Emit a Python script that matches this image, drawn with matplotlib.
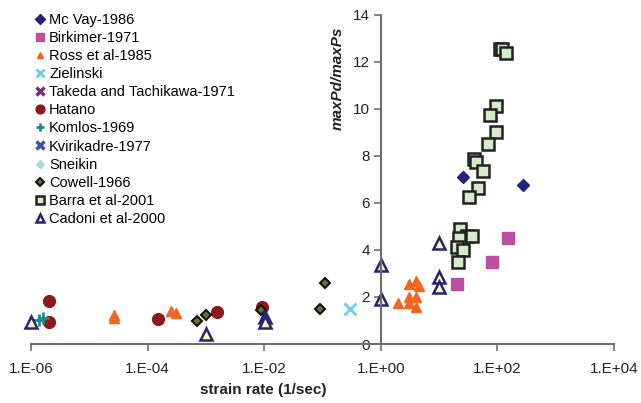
import numpy as np
import matplotlib.pyplot as plt
from matplotlib.ticker import FixedLocator, NullLocator

plt.rcParams['font.family'] = ['Liberation Sans', 'DejaVu Sans']

# strain rate (1/sec) and maxPd/maxPs per source
mcvay_x = [25.3, 275]
mcvay_y = [7.11, 6.77]

birk_x = [20.3, 79.5, 150]
birk_y = [2.57, 3.50, 4.50]

ross_x = [2.6e-5, 2.6e-5, 2.5e-4, 3.1e-4, 2.0, 3.0, 4.0, 4.6, 3.0, 4.0, 3.0, 4.0]
ross_y = [1.25, 1.10, 1.42, 1.30, 1.73, 2.54, 2.69, 2.47, 2.01, 2.01, 1.73, 1.56]

ziel_x = [0.30]
ziel_y = [1.48]

takeda_x, takeda_y = [], []

hatano_x = [2.06e-6, 2.06e-6, 1.52e-4, 1.53e-3, 9.06e-3]
hatano_y = [1.84, 0.95, 1.06, 1.37, 1.59]

komlos_x = [1.35e-6, 1.6e-6]
komlos_y = [1.02, 1.10]

kviri_x, kviri_y = [], []
sneikin_x, sneikin_y = [], []

cowell_x = [6.95e-4, 1.0e-3, 8.9e-3, 0.0906, 0.11]
cowell_y = [0.98, 1.23, 1.43, 1.48, 2.58]

barra_x = [109, 120, 140, 95.7, 75.5, 95.7, 69.8, 40.2, 43.5, 56.6, 45.7, 33.0,
           23.1, 30.1, 36.7, 22.2, 20.1, 25.3, 21.1]
barra_y = [12.57, 12.54, 12.40, 10.13, 9.74, 9.01, 8.50, 7.86, 7.74, 7.37, 6.63, 6.24,
           4.88, 4.60, 4.60, 4.50, 4.11, 3.98, 3.48]

cadoni_x = [1e-6, 1e-3, 0.0102, 0.0102, 1.0, 1.0, 10, 10, 10]
cadoni_y = [0.92, 0.43, 1.14, 0.95, 3.37, 1.92, 4.31, 2.84, 2.41]

xticks = [1e-6, 1e-4, 1e-2, 1e0, 1e2, 1e4]
xticklabels = ['1.E-06', '1.E-04', '1.E-02', '1.E+00', '1.E+02', '1.E+04']
yticks = [0, 2, 4, 6, 8, 10, 12, 14]

fig = plt.figure(figsize=(6.41, 4.03), dpi=100)
ax = fig.add_axes([0.0484, 0.1464, 0.9095, 0.8164])

def pts(x, y, lab, **kw):
	ax.plot(x, y, linestyle='none', label=lab, clip_on=False, **kw)

pts(mcvay_x, mcvay_y, 'Mc Vay-1986', marker='D', ms=6.5, color='#24237A', mec='#24237A')
pts(birk_x, birk_y, 'Birkimer-1971', marker='s', ms=8.5, color='#BC4FA0', mec='#BC4FA0')
pts(ross_x, ross_y, 'Ross et al-1985', marker='^', ms=6.5, color='#F26522', mec='#F26522')
pts(ziel_x, ziel_y, 'Zielinski', marker='x', ms=8, mew=2, color='#6CCDE0')
pts(takeda_x, takeda_y, 'Takeda and Tachikawa-1971', marker='x', ms=7, mew=2.5, color='#7B2C7E')
pts(hatano_x, hatano_y, 'Hatano', marker='o', ms=8.5, color='#8C1A1A', mec='#8C1A1A')
pts(komlos_x, komlos_y, 'Komlos-1969', marker='+', ms=8, mew=2, color='#1F8A8A')
pts(kviri_x, kviri_y, 'Kvirikadre-1977', marker='x', ms=7, mew=2.5, color='#3B4FA8')
pts(sneikin_x, sneikin_y, 'Sneikin', marker='D', ms=5, color='#A9D9DD', mec='#A9D9DD')
pts(cowell_x, cowell_y, 'Cowell-1966', marker='D', ms=5.5, color='#6E6E2C', mec='#111111', mew=1.5)
pts(barra_x, barra_y, 'Barra et al-2001', marker='s', ms=8, color='#D3EBC9', mec='#222222', mew=1.8)
pts(cadoni_x, cadoni_y, 'Cadoni et al-2000', marker='^', ms=8, color='#FFF7A6', mec='#232378', mew=1.8)

ax.set_xscale('log')
ax.set_xlim(1e-6, 1e4)
ax.set_ylim(0, 14)
ax.xaxis.set_major_locator(FixedLocator(xticks))
ax.xaxis.set_minor_locator(NullLocator())
ax.set_xticklabels(xticklabels)
ax.set_yticks(yticks)

for s in ['top', 'right']:
	ax.spines[s].set_visible(False)
ax.spines['left'].set_position(('data', 1))
ax.spines['bottom'].set_position(('data', 0))
for s in ['left', 'bottom']:
	ax.spines[s].set_color('#6E6E6E')
	ax.spines[s].set_linewidth(1.5)
ax.tick_params(axis='both', direction='out', length=5, width=1.2, color='#6E6E6E',
               labelsize=11, labelcolor='#222222')
ax.tick_params(axis='x', pad=8)
ax.tick_params(axis='y', pad=3)
ax.patch.set_visible(False)

fig.text(263/641, 1 - 390/403, 'strain rate (1/sec)', ha='center', va='center',
         fontsize=11, fontweight='bold', color='#222222')
fig.text(338/641, 1 - 78/403, 'maxPd/maxPs', ha='center', va='center', rotation=90,
         fontsize=11, fontweight='bold', style='italic', color='#222222')

ax.legend(loc='upper left', bbox_to_anchor=(36/641, 1 - 13/403), bbox_transform=fig.transFigure,
          frameon=False, fontsize=10.5, numpoints=1, markerscale=0.75, handlelength=0.6,
          handletextpad=0.3, labelspacing=0.28, borderpad=0, borderaxespad=0)

fig.savefig('out.png', dpi=100)
